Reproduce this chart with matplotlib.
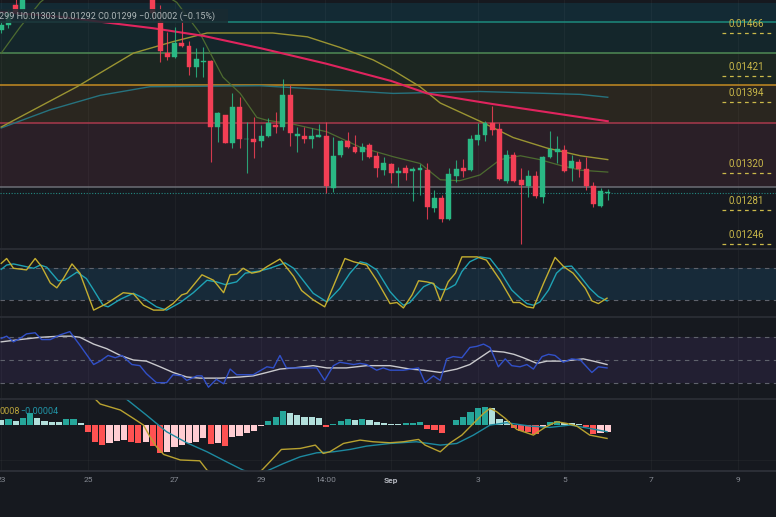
import numpy as np
import matplotlib
matplotlib.use("Agg")
import matplotlib.pyplot as plt
from matplotlib.lines import Line2D
from matplotlib.patches import Rectangle

nan = np.nan

# 4h candles, Aug 23 00:00 -> Sep 6 00:00 (85 bars). bars 4..20 sit above the visible range
opens = [0.01469, 0.01474, 0.01495, 0.01490] + [nan] * 17 + [
    0.01502, 0.01478, 0.01445, 0.01441, 0.01456, 0.01452, 0.01431, 0.01436, 0.01437, 0.01368,
    0.01380, 0.01351, 0.01389, 0.01355, 0.01356, 0.01353, 0.01359, 0.01370, 0.01368, 0.01401,
    0.01359, 0.01359, 0.01356, 0.01358, 0.01359, 0.01304, 0.01339, 0.01353, 0.01347, 0.01342,
    0.01349, 0.01338, 0.01323, 0.01329, 0.01320, 0.01325, 0.01322, 0.01323, 0.01323, 0.01284,
    0.01294, 0.01272, 0.01317, 0.01325, 0.01323, 0.01354, 0.01360, 0.01372, 0.01366, 0.01312,
    0.01339, 0.01313, 0.01307, 0.01317, 0.01295, 0.01337, 0.01342, 0.01344, 0.01325, 0.01332,
    0.01324, 0.01307, 0.01286, 0.01299]
highs = [0.01479, 0.01490, 0.01501, 0.01506] + [nan] * 17 + [
    0.01505, 0.01495, 0.01467, 0.01472, 0.01478, 0.01458, 0.01450, 0.01451, 0.01438, 0.01384,
    0.01381, 0.01403, 0.01399, 0.01373, 0.01378, 0.01370, 0.01377, 0.01384, 0.01418, 0.01412,
    0.01368, 0.01368, 0.01367, 0.01371, 0.01373, 0.01358, 0.01354, 0.01363, 0.01360, 0.01351,
    0.01351, 0.01342, 0.01337, 0.01330, 0.01326, 0.01328, 0.01326, 0.01329, 0.01330, 0.01302,
    0.01297, 0.01325, 0.01334, 0.01335, 0.01360, 0.01372, 0.01374, 0.01390, 0.01372, 0.01344,
    0.01342, 0.01325, 0.01323, 0.01322, 0.01338, 0.01364, 0.01359, 0.01349, 0.01339, 0.01335,
    0.01337, 0.01311, 0.01304, 0.01303]
lows = [0.01466, 0.01471, 0.01486, 0.01488] + [nan] * 17 + [
    0.01480, 0.01436, 0.01438, 0.01440, 0.01451, 0.01422, 0.01420, 0.01420, 0.01332, 0.01352,
    0.01351, 0.01346, 0.01346, 0.01320, 0.01336, 0.01347, 0.01358, 0.01362, 0.01365, 0.01348,
    0.01342, 0.01351, 0.01346, 0.01358, 0.01299, 0.01300, 0.01337, 0.01346, 0.01341, 0.01334,
    0.01336, 0.01316, 0.01318, 0.01310, 0.01305, 0.01313, 0.01291, 0.01297, 0.01272, 0.01279,
    0.01269, 0.01271, 0.01311, 0.01316, 0.01322, 0.01349, 0.01353, 0.01360, 0.01313, 0.01310,
    0.01311, 0.01246, 0.01295, 0.01294, 0.01289, 0.01336, 0.01330, 0.01321, 0.01312, 0.01316,
    0.01302, 0.01285, 0.01285, 0.01292]
closes = [0.01474, 0.01487, 0.01488, 0.01502] + [nan] * 17 + [
    0.01487, 0.01447, 0.01441, 0.01456, 0.01452, 0.01431, 0.01439, 0.01437, 0.01368, 0.01383,
    0.01351, 0.01389, 0.01356, 0.01356, 0.01352, 0.01359, 0.01372, 0.01368, 0.01401, 0.01362,
    0.01361, 0.01356, 0.01359, 0.01360, 0.01307, 0.01338, 0.01353, 0.01347, 0.01342, 0.01347,
    0.01337, 0.01325, 0.01330, 0.01320, 0.01322, 0.01320, 0.01324, 0.01325, 0.01285, 0.01294,
    0.01272, 0.01319, 0.01324, 0.01322, 0.01356, 0.01360, 0.01372, 0.01365, 0.01314, 0.01339,
    0.01312, 0.01308, 0.01317, 0.01296, 0.01337, 0.01345, 0.01345, 0.01322, 0.01333, 0.01324,
    0.01307, 0.01288, 0.01301, 0.01299]

# moving averages on price (bar index, value)
ma200_idx = [0, 8, 21, 28, 36, 45, 54, 59, 68, 76, 84]
ma200 = [0.01488, 0.01483, 0.01471, 0.01463, 0.01450, 0.01434, 0.01416, 0.01403, 0.01392, 0.01383, 0.01374]
ma100_idx = [0, 6.8, 13.7, 20.6, 35.8, 45.1, 54.3, 66.3, 80.2, 84]
ma100 = [0.01367, 0.01386, 0.01401, 0.01410, 0.01411, 0.01407, 0.01403, 0.01405, 0.01402, 0.01399]
ma50_idx = [0, 10.5, 18.3, 23.8, 28.5, 37.6, 42.4, 46.9, 51.5, 54.3, 58, 60.8, 66.3, 70.9, 75.6, 80.2, 84]
ma50 = [0.01368, 0.01410, 0.01445, 0.01457, 0.01466, 0.01466, 0.01462, 0.01451, 0.01438, 0.01427,
        0.01410, 0.01393, 0.01374, 0.01357, 0.01346, 0.01338, 0.01334]
ma20_idx = [0, 2.6, 5.4, 9, 14, 19, 24.3, 27.5, 30.7, 33.1, 35.4, 36.8, 40.4, 45.1, 49.7, 54.3,
            58, 60.8, 63.5, 66.3, 69.1, 71.9, 74.6, 77.4, 80.2, 84]
ma20 = [0.01445, 0.01472, 0.01498, 0.01520, 0.01530, 0.01522, 0.01498, 0.01466, 0.01420, 0.01403,
        0.01378, 0.01375, 0.01371, 0.01363, 0.01347, 0.01337, 0.01330, 0.01313, 0.01312, 0.01318,
        0.01334, 0.01338, 0.01334, 0.01328, 0.01323, 0.01321]

# fib zones (top edge first)
fib_levels = [0.014973, 0.014775, 0.014451, 0.014118, 0.013722, 0.013054]
fib_line_colors = [None, '#1d8a7c', '#4f8a55', '#c48b22', '#a8394c', '#6c6e76']
fib_zone_colors = ['#132a34', '#14262b', '#1c2621', '#2a261f', '#2a1f27']

level_labels = [0.01466, 0.01421, 0.01394, 0.01320, 0.01281, 0.01246]
last_price = 0.01299

# stoch rsi
k_idx = [0, 0.75, 1.7, 3.5, 4.7, 5.6, 6.8, 7.7, 8.6, 9.8, 10.9, 12.8, 14.6, 16.9, 18.3, 19.7, 21.1,
         22.5, 23.8, 25, 25.7, 27.8, 29.4, 30.8, 31.7, 32.6, 33.5, 34.7, 35.8, 36.8, 38.6, 40.5, 41.6,
         43.2, 44.8, 47.6, 48.8, 50.6, 52, 53.85, 54.8, 55.7, 56.9, 57.8, 58.9, 59.9, 60.8, 61.9, 62.9,
         63.8, 65.9, 67.2, 69.1, 70.9, 71.8, 72.8, 73.7, 75.1, 76.7, 77.9, 79.2, 80.9, 81.8, 82.7, 83.9]
k_val = [88, 97, 79, 76, 97, 82, 52, 43, 60, 87, 70, 2, 14, 34, 32, 11, 2, 2, 14, 30, 33, 67, 57, 34,
         67, 68, 79, 70, 73, 82, 96, 64, 38, 21, 8, 97, 91, 85, 57, 14, 16, 6, 30, 56, 54, 51, 19, 54,
         70, 100, 100, 94, 57, 16, 16, 8, 6, 51, 99, 82, 70, 42, 19, 14, 24]
d_idx = [0, 0.75, 1.7, 3.1, 4.5, 5.4, 6.3, 7.9, 8.8, 10.5, 11.8, 12.8, 14.1, 14.8, 16.5, 18.3, 19.7,
         21.5, 22.9, 24.8, 26.6, 28.5, 29.8, 31, 32.6, 33.8, 35.8, 37.2, 39.3, 40.5, 41.8, 43.2, 45.1,
         46.9, 48.3, 49.7, 50.6, 52, 53.85, 54.8, 55.7, 56.6, 57.5, 58.5, 59.6, 60.8, 61.7, 62.9, 63.8,
         64.9, 66.3, 67.7, 69.1, 70.7, 71.9, 72.8, 73.7, 74.6, 75.8, 76.9, 77.9, 79, 80.2, 81.5, 82.7, 83.9]
d_val = [77, 85, 87, 83, 79, 85, 81, 56, 57, 72, 60, 39, 11, 8, 22, 33, 24, 8, 2, 16, 34, 57, 54, 49,
         54, 70, 74, 79, 89, 79, 57, 33, 17, 42, 70, 91, 88, 76, 36, 22, 11, 16, 30, 45, 52, 40, 40, 49,
         73, 91, 100, 97, 73, 39, 24, 14, 11, 17, 39, 70, 82, 83, 64, 42, 27, 19]

# rsi + its moving average
r_idx = [0, 0.75, 1.7, 2.6, 3.5, 4.7, 5.6, 6.8, 8.1, 9.5, 10.9, 12.8, 13.7, 14.8, 15.8, 16.7, 18.1,
         19.2, 20.1, 21.5, 22.9, 23.8, 25, 25.7, 27.1, 27.8, 28.7, 29.8, 30.8, 31.7, 32.6, 34.9, 36.8,
         37.7, 38.6, 39.5, 41.4, 43.7, 44.8, 46, 46.9, 48.8, 49.7, 50.6, 52, 52.9, 53.85, 55.7, 57.8,
         58.7, 59.85, 60.8, 61.7, 62.6, 63.8, 64.9, 65.85, 66.8, 67.7, 68.85, 69.8, 70.7, 71.85, 72.8,
         73.7, 74.9, 75.8, 76.7, 77.85, 79, 80.2, 81.8, 82.7, 83.9]
r_val = [69, 71, 66, 69, 73, 74, 68, 68, 72, 75, 63, 46, 49, 54, 52, 54, 46, 45, 38, 30, 30, 37, 36,
         32, 36, 36, 26, 33, 29, 42, 37, 37, 44, 43, 54, 43, 43, 43, 32, 45, 48, 46, 47, 46, 41, 43, 41,
         41, 43, 30, 36, 32, 51, 53, 52, 61, 62, 64, 61, 44, 51, 45, 44, 46, 42, 53, 55, 54, 48, 51, 50,
         39, 44, 43]
rm_idx = [0, 2.6, 5.4, 8.1, 9.8, 10.9, 12.8, 14.6, 16.5, 18.3, 20.1, 22, 23.8, 25.7, 27.5, 30.3, 33.1,
          34.9, 36.8, 38.6, 40.5, 43.2, 45.1, 47.8, 50.6, 53.85, 56.6, 58.5, 60.8, 63.1, 64.9, 66.3,
          67.7, 69.6, 71, 72.3, 74.2, 75.6, 77.85, 80.6, 82, 83.9]
rm_val = [66, 68, 70, 71, 71, 70, 64, 60, 54, 50, 49, 44, 39, 35, 34, 34, 35, 36, 39, 42, 43, 45, 43,
          43, 45, 45, 42, 41, 39, 42, 46, 52, 58, 57, 55, 52, 47, 49, 49, 51, 49, 46]

# macd (units of 1e-5)
hist = [3.0, 3.4, 2.4, 4.0, 7.0, 4.0, 2.4, 2.0, 2.0, 3.4, 3.6, 1.0, -4.4, -10.4, -12.0, -10.6, -9.6,
        -9.0, -10.4, -10.6, -10.0, -12.6, -17.0, -16.0, -13.0, -12.0, -11.0, -10.0, -8.0, -11.6, -11.0,
        -12.4, -7.0, -6.6, -5.0, -3.4, -0.6, 2.4, 5.0, 8.6, 7.0, 6.0, 4.6, 4.6, 4.4, -1.0, 0.4, 2.4,
        3.4, 2.8, 3.4, 3.0, 1.6, 1.4, 0.6, 0.4, 1.0, 1.2, 1.6, -2.4, -3.0, -4.6, 0.2, 3.0, 4.6, 8.0,
        10.0, 11.0, 10.0, 3.4, 2.4, -2.0, -3.4, -4.0, -5.6, -1.4, 2.0, 2.2, 1.0, 1.0, 0.4, -1.4, -5.4,
        -4.8, -4.2]
m_idx = [12.8, 13.7, 16.5, 18.3, 19.7, 20.6, 21.5, 22.5, 24.8, 27.5, 28.5, 30, 32, 34, 36.1, 37.2,
         38.8, 41.4, 43.5, 44.6, 45.5, 47.4, 49.7, 51.5, 53.85, 55.7, 57.8, 58.7, 60.8, 62.2, 63.8,
         65.4, 66.8, 67.7, 68.6, 69.8, 71.4, 73.7, 75.3, 76.9, 78.3, 79.7, 81.5, 83.9]
m_val = [16.5, 12.6, 9, 4, 0, -7, -13, -17.6, -20.9, -21.4, -27, -31, -33, -32, -27, -22, -14.6, -14,
         -12, -17, -16, -11, -9, -10, -10.6, -10, -8.6, -12, -16, -10.6, -6, 1, 7, 10, 8, 4, -2.6, -6,
         -1.4, 2, 1, -0.6, -6, -8]
s_idx = [17.2, 20.1, 22.9, 25.7, 28.5, 31.2, 33.5, 35, 36.8, 39.1, 41.4, 43.7, 46, 48.3, 50.6, 53.85,
         57.5, 60.8, 63.1, 65.4, 67.7, 70, 73.2, 76, 78.8, 81.5, 83.9]
s_val = [16, 6, -4, -10.6, -16, -22, -27, -29, -27.5, -23, -19, -16.6, -16, -14.6, -12.6, -11, -10,
         -12, -11, -6, 0, 1.4, -0.6, -1.4, 0, -2, -4]

# x axis labels
tick_idx = [0, 12, 24, 36, 44.9, 54, 66, 78, 90, 102]
tick_labels = ['23', '25', '27', '29', '14:00', 'Sep', '3', '5', '7', '9']

BG = '#16191f'
GREEN = '#2ab884'
RED = '#f23f55'
GOLD = '#cbb94a'
W, H = 776, 517
XMIN, XMAX = -0.17, 107.3

plt.rcParams['font.family'] = ['Roboto', 'DejaVu Sans']
fig = plt.figure(figsize=(W / 100, H / 100), dpi=100)
fig.patch.set_facecolor(BG)


def panel(top, bottom, ylim):
    ax = fig.add_axes([0, 1 - bottom / H, 1, (bottom - top) / H])
    ax.set_facecolor(BG)
    ax.set_xlim(XMIN, XMAX)
    ax.set_ylim(*ylim)
    for s in ax.spines.values():
        s.set_visible(False)
    ax.set_xticks([])
    ax.set_yticks([])
    for t in tick_idx:
        ax.axvline(t, color='white', alpha=0.035, lw=0.8, zorder=0.5)
    return ax


# ---- price panel ----
ax = panel(0, 249, (0.012408, 0.015004))
for i in range(len(fib_zone_colors)):
    ax.axhspan(fib_levels[i + 1], fib_levels[i], color=fib_zone_colors[i], lw=0, zorder=0.2)
for lv, col in zip(fib_levels[1:], fib_line_colors[1:]):
    ax.axhline(lv, color=col, lw=1.1, zorder=1)

ax.axhline(last_price, color='#26a69a', lw=0.8, ls=(0, (1, 1.5)), alpha=0.8, zorder=1)

ax.plot(ma100_idx, ma100, color='#26727e', lw=1.0, zorder=2)
ax.plot(ma50_idx, ma50, color='#9a9432', lw=1.0, zorder=2)
ax.plot(ma20_idx, ma20, color='#4d6b30', lw=0.9, zorder=2)
ax.plot(ma200_idx, ma200, color='#e0245e', lw=1.5, zorder=2)

o = np.array(opens)
hi = np.array(highs)
lo = np.array(lows)
c = np.array(closes)
xs = np.arange(len(o))
ok = ~np.isnan(o)
cols = np.where(c >= o, GREEN, RED)[ok]
ax.vlines(xs[ok], lo[ok], hi[ok], colors=cols, lw=0.8, alpha=0.85, zorder=3)
ax.bar(xs[ok], np.maximum(np.abs(c - o)[ok], 0.000008), bottom=np.minimum(o, c)[ok],
       width=0.68, color=cols, edgecolor=cols, linewidth=0.3, zorder=4)

for lv in level_labels:
    ax.hlines(lv, 99.8, 106.8, colors=GOLD, linestyles=(0, (3, 3)), lw=0.9, zorder=5)
    ax.annotate(f"{lv:.5f}", (103.2, lv), xytext=(0, 6.8), textcoords='offset points',
                ha='center', va='center', color=GOLD, fontsize=7, zorder=6)

# ohlc header
fig.add_artist(Rectangle((0, 1 - 23 / H), 228 / W, 14 / H, transform=fig.transFigure,
                         facecolor='#1a2b31', alpha=0.85, lw=0, zorder=10))
fig.text(-1 / W, 1 - 16 / H, "299 H0.01303 L0.01292 C0.01299 \u22120.00002 (\u22120.15%)",
         color='#aeb7b8', fontsize=6.5, va='center', ha='left', zorder=11)

# ---- stoch rsi ----
ax2 = panel(249, 317, (-10.7, 114.5))
ax2.axhspan(20, 80, color='#172a39', lw=0, zorder=0.2)
for lv in (80, 20):
    ax2.axhline(lv, color='#5f626c', lw=0.8, ls=(0, (4, 4)), zorder=1)
ax2.plot(d_idx, d_val, color='#1fa2b4', lw=1.0, zorder=2)
ax2.plot(k_idx, k_val, color='#c4ae30', lw=1.0, zorder=3)

# ---- rsi ----
ax3 = panel(317, 399, (15.6, 87.9))
ax3.axhspan(30, 70, color='#221f32', lw=0, zorder=0.2)
for lv in (70, 50, 30):
    ax3.axhline(lv, color='#5f626c', lw=0.8, ls=(0, (4, 4)), zorder=1)
ax3.plot(rm_idx, rm_val, color='#c9c9cd', lw=1.0, zorder=2)
ax3.plot(r_idx, r_val, color='#3150c8', lw=1.0, zorder=3)

# ---- macd ----
ax4 = panel(399, 471, (-27.5, 15.6))
ax4.axhline(-21, color='white', alpha=0.035, lw=0.8, zorder=0.5)
hcols = []
prev = None
for h in hist:
    if h >= 0:
        hcols.append('#26a69a' if prev is not None and h > prev else '#b2dfdb')
    else:
        hcols.append('#ff5252' if prev is not None and h < prev else '#ffcdd2')
    prev = h
ax4.bar(np.arange(len(hist)), hist, width=0.85, color=hcols, lw=0, zorder=2)
ax4.plot(s_idx, s_val, color='#1d8aa0', lw=1.0, zorder=3)
ax4.plot(m_idx, m_val, color='#b8a230', lw=1.0, zorder=4)
fig.text(0, 1 - 411.7 / H, "0008", color='#b8a33b', fontsize=6.5, va='center', ha='left')
fig.text(20.5 / W, 1 - 411.7 / H, "\u22120.00004", color='#2196a8', fontsize=6.5, va='center', ha='left')

ax4.set_xticks(tick_idx)
ax4.set_xticklabels(tick_labels)
ax4.tick_params(axis='x', length=0, pad=4.5, labelsize=6, labelcolor='#878b94')
for lab in ax4.get_xticklabels():
    if lab.get_text() == 'Sep':
        lab.set_color('#b4b7bf')
        lab.set_fontweight('bold')

# panel separators
for yy, col in [(249, '#2a2d35'), (317, '#2a2d35'), (399, '#2a2d35'), (471, '#2e3139')]:
    fig.add_artist(Line2D([0, 1], [1 - yy / H] * 2, transform=fig.transFigure, color=col, lw=1.3, zorder=9))

plt.savefig("out.png", dpi=100, facecolor=BG)
